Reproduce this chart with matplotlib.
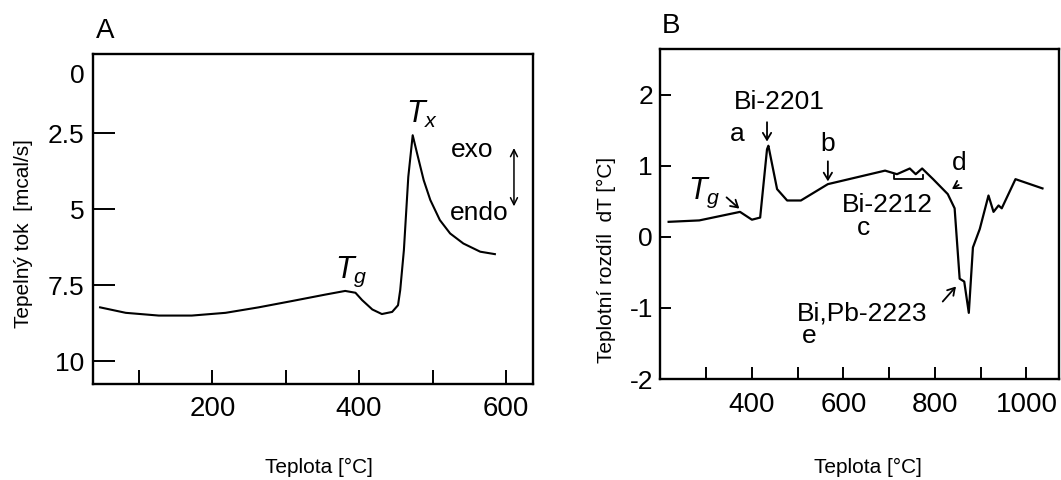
import matplotlib
matplotlib.use("Agg")
import matplotlib.pyplot as plt
import matplotlib.transforms as mtransforms

plt.rcParams['font.family'] = ['Liberation Sans', 'DejaVu Sans']
plt.rcParams['mathtext.fontset'] = 'custom'
plt.rcParams['mathtext.rm'] = 'Liberation Sans'
plt.rcParams['mathtext.it'] = 'Liberation Sans:italic'

# panel A - DSC curve (heat flow, inverted axis)
temp_a = [47, 82, 127, 172, 218, 263, 309, 354, 381, 395, 404, 418, 431, 445, 453, 456,
          461, 467, 473, 479, 488, 497, 510, 524, 542, 565, 585]
flow_a = [8.23, 8.41, 8.50, 8.50, 8.41, 8.23, 8.02, 7.81, 7.69, 7.75, 7.99, 8.30, 8.45,
          8.38, 8.16, 7.66, 6.35, 3.94, 2.57, 3.17, 4.05, 4.70, 5.36, 5.80, 6.13, 6.40, 6.48]
xticks_a = [100, 200, 300, 400, 500, 600]
xlabels_a = ['', '200', '', '400', '', '600']
yticks_a = [0, 2.5, 5, 7.5, 10]
ylabels_a = ['0', '2.5', '5', '7.5', '10']

# panel B - DTA curve
temp_b = [218, 285, 374, 400, 418, 433, 436, 455, 477, 507, 566, 691, 717, 745, 758, 772,
          796, 828, 843, 854, 864, 874, 883, 898, 917, 928, 939, 946, 976, 1035]
dt_b = [0.21, 0.23, 0.35, 0.24, 0.27, 1.23, 1.28, 0.67, 0.51, 0.51, 0.74, 0.93, 0.88, 0.96,
        0.88, 0.96, 0.81, 0.60, 0.40, -0.59, -0.63, -1.07, -0.15, 0.11, 0.58, 0.35, 0.44,
        0.40, 0.81, 0.68]
xticks_b = [300, 400, 500, 600, 700, 800, 900, 1000]
xlabels_b = ['', '400', '', '600', '', '800', '', '1000']
yticks_b = [-2, -1, 0, 1, 2]
ylabels_b = ['-2', '-1', '0', '1', '2']

fig = plt.figure(figsize=(10.61, 4.8), dpi=100)
ax_a = fig.add_axes([0.0874, 0.2, 0.415, 0.6875])
ax_b = fig.add_axes([0.622, 0.2104, 0.3765, 0.6875])

for ax in (ax_a, ax_b):
    for s in ax.spines.values():
        s.set_linewidth(1.7)

# ---- A ----
ax_a.plot(temp_a, flow_a, color='black', lw=1.5)
ax_a.set_xlim(37, 637)
ax_a.set_ylim(10.75, -0.1)
ax_a.set_xticks(xticks_a, xlabels_a, fontsize=20)
ax_a.set_yticks(yticks_a, ylabels_a, fontsize=19)
ax_a.tick_params(axis='x', direction='in', length=10, width=1.4, pad=9)
ax_a.tick_params(axis='y', direction='in', length=16, width=1.4, pad=6)
# the "0" label sits a bit lower than its value in the original and has no tick
ax_a.yaxis.get_major_ticks()[0].tick1line.set_visible(False)
lab0 = ax_a.get_yticklabels()[0]
lab0.set_transform(lab0.get_transform() + mtransforms.ScaledTranslation(0, -0.16, fig.dpi_scale_trans))
ax_a.set_xlabel('Teplota [°C]', fontsize=15)
ax_a.set_ylabel('Tepelný tok  [mcal/s]', fontsize=15)
ax_a.xaxis.set_label_coords(0.513, -0.224)
ax_a.yaxis.set_label_coords(-0.135, 0.455)
ax_a.text(0.008, 1.03, 'A', transform=ax_a.transAxes, fontsize=20, va='bottom', ha='left')

ax_a.text(389, 7.07, '$T_g$', fontsize=22, ha='center', va='center')
ax_a.text(486, 1.9, '$T_x$', fontsize=22, ha='center', va='center')
ax_a.text(554, 3.06, 'exo', fontsize=19, ha='center', va='center')
ax_a.text(563, 5.14, 'endo', fontsize=19, ha='center', va='center')
ax_a.annotate('', xy=(611, 2.9), xytext=(611, 5.0),
              arrowprops=dict(arrowstyle='<->,head_length=0.5,head_width=0.25',
                              color='black', lw=1.1))

# ---- B ----
ax_b.plot(temp_b, dt_b, color='black', lw=1.6)
ax_b.set_xlim(199, 1072)
ax_b.set_ylim(-1.97, 2.64)
ax_b.set_xticks(xticks_b, xlabels_b, fontsize=20)
ax_b.set_yticks(yticks_b, ylabels_b, fontsize=19)
ax_b.tick_params(axis='x', direction='in', length=9, width=1.4, pad=9)
ax_b.tick_params(axis='y', direction='in', length=8, width=1.4, pad=5)
ax_b.set_xlabel('Teplota [°C]', fontsize=15)
ax_b.set_ylabel('Teplotní rozdíl  dT [°C]', fontsize=15)
ax_b.xaxis.set_label_coords(0.52, -0.239)
ax_b.yaxis.set_label_coords(-0.11, 0.36)
ax_b.text(0.005, 1.03, 'B', transform=ax_b.transAxes, fontsize=20, va='bottom', ha='left')

arrow = dict(arrowstyle='->,head_length=0.5,head_width=0.3', color='black', lw=1.3)
ax_b.text(459, 1.90, 'Bi-2201', fontsize=19, ha='center', va='center')
ax_b.annotate('', xy=(433, 1.30), xytext=(433, 1.65), arrowprops=arrow)
ax_b.text(368, 1.44, 'a', fontsize=19, ha='center', va='center')
ax_b.text(566, 1.30, 'b', fontsize=19, ha='center', va='center')
ax_b.annotate('', xy=(566, 0.74), xytext=(566, 1.10), arrowprops=arrow)
ax_b.text(296, 0.62, '$T_g$', fontsize=22, ha='center', va='center')
ax_b.annotate('', xy=(377, 0.37), xytext=(340, 0.58), arrowprops=arrow)
ax_b.text(695, 0.44, 'Bi-2212', fontsize=19, ha='center', va='center')
ax_b.text(643, 0.12, 'c', fontsize=19, ha='center', va='center')
ax_b.plot([710, 710, 773, 773], [0.87, 0.81, 0.81, 0.87], color='black', lw=1.3)
ax_b.text(854, 1.04, 'd', fontsize=19, ha='center', va='center')
ax_b.annotate('', xy=(832, 0.65), xytext=(857, 0.75), arrowprops=arrow)
ax_b.text(640, -1.08, 'Bi,Pb-2223', fontsize=19, ha='center', va='center')
ax_b.text(525, -1.40, 'e', fontsize=19, ha='center', va='center')
ax_b.annotate('', xy=(850, -0.67), xytext=(813, -0.94), arrowprops=arrow)

fig.savefig('out.png', dpi=100)
